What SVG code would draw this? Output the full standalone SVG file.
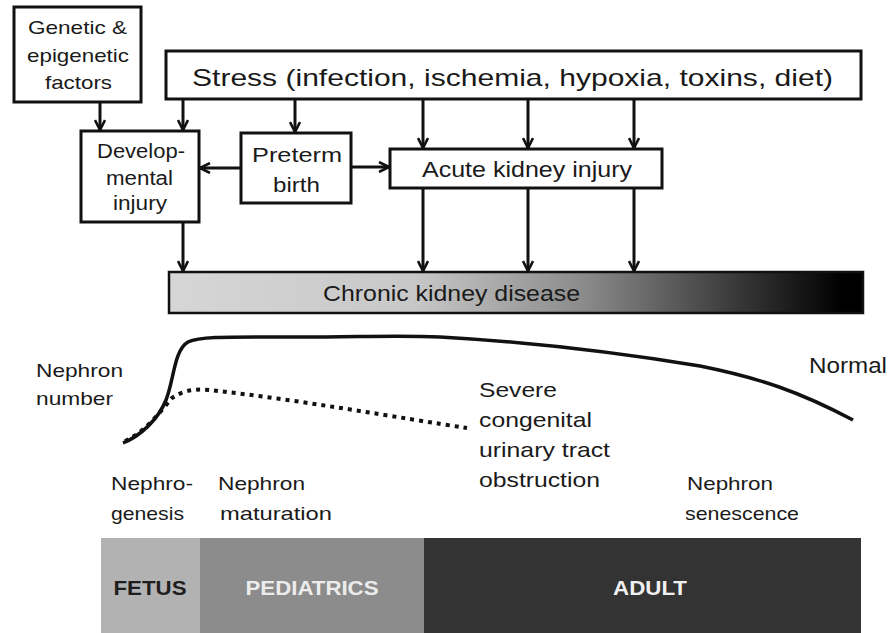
<svg xmlns="http://www.w3.org/2000/svg" width="893" height="633" viewBox="0 0 893 633">
<style>
.box{fill:#fff;stroke:#111;stroke-width:3}
.t{font-family:"Liberation Sans",Arial,sans-serif;fill:#1a1a1a}
.c{text-anchor:middle}
.conn{stroke:#111;stroke-width:3;fill:none}
.band{font-family:"Liberation Sans",Arial,sans-serif;font-weight:bold;font-size:21px;text-anchor:middle}
</style>
<defs>
<marker id="ah" viewBox="0 0 12 12" refX="11" refY="6" markerWidth="12" markerHeight="12" markerUnits="userSpaceOnUse" orient="auto">
<path d="M1,1 L11,6 L1,11" fill="none" stroke="#111" stroke-width="2.6"/>
</marker>
<linearGradient id="ckd" x1="0" y1="0" x2="1" y2="0">
<stop offset="0" stop-color="#d6d6d6"/>
<stop offset="0.35" stop-color="#c8c8c8"/>
<stop offset="0.6" stop-color="#8a8a8a"/>
<stop offset="0.97" stop-color="#000"/>
<stop offset="1" stop-color="#000"/>
</linearGradient>
</defs>

<g id="connectors">
<line class="conn" x1="100" y1="102" x2="100" y2="130" marker-end="url(#ah)"/>
<line class="conn" x1="183" y1="99" x2="183" y2="130" marker-end="url(#ah)"/>
<line class="conn" x1="295" y1="99" x2="295" y2="132" marker-end="url(#ah)"/>
<line class="conn" x1="423" y1="99" x2="423" y2="148" marker-end="url(#ah)"/>
<line class="conn" x1="528" y1="99" x2="528" y2="148" marker-end="url(#ah)"/>
<line class="conn" x1="634" y1="99" x2="634" y2="148" marker-end="url(#ah)"/>
<line class="conn" x1="241" y1="168" x2="200" y2="168" marker-end="url(#ah)"/>
<line class="conn" x1="351" y1="167" x2="389" y2="167" marker-end="url(#ah)"/>
<line class="conn" x1="183" y1="222" x2="183" y2="271" marker-end="url(#ah)"/>
<line class="conn" x1="423" y1="188" x2="423" y2="271" marker-end="url(#ah)"/>
<line class="conn" x1="528" y1="188" x2="528" y2="271" marker-end="url(#ah)"/>
<line class="conn" x1="634" y1="188" x2="634" y2="271" marker-end="url(#ah)"/>
</g>

<g id="genetic">
<rect class="box" x="14" y="7" width="127" height="95"/>
<text class="t" font-size="19" x="28" y="34" textLength="99" lengthAdjust="spacingAndGlyphs">Genetic &amp;</text>
<text class="t" font-size="19" x="27" y="62" textLength="102" lengthAdjust="spacingAndGlyphs">epigenetic</text>
<text class="t" font-size="19" x="45" y="89" textLength="67" lengthAdjust="spacingAndGlyphs">factors</text>
</g>

<g id="stress">
<rect class="box" x="166" y="51" width="695" height="48"/>
<text class="t" font-size="24" x="192" y="86" textLength="641" lengthAdjust="spacingAndGlyphs">Stress (infection, ischemia, hypoxia, toxins, diet)</text>
</g>

<g id="developmental">
<rect class="box" x="81" y="131" width="118" height="91"/>
<text class="t" font-size="20" x="97" y="158" textLength="88" lengthAdjust="spacingAndGlyphs">Develop-</text>
<text class="t" font-size="20" x="106" y="185" textLength="67" lengthAdjust="spacingAndGlyphs">mental</text>
<text class="t" font-size="20" x="113" y="210" textLength="54" lengthAdjust="spacingAndGlyphs">injury</text>
</g>

<g id="preterm">
<rect class="box" x="241" y="133" width="110" height="70"/>
<text class="t" font-size="21" x="252" y="162" textLength="90" lengthAdjust="spacingAndGlyphs">Preterm</text>
<text class="t" font-size="21" x="273" y="192" textLength="47" lengthAdjust="spacingAndGlyphs">birth</text>
</g>

<g id="aki">
<rect class="box" x="390" y="149" width="272" height="39"/>
<text class="t" font-size="22" x="422" y="177" textLength="210" lengthAdjust="spacingAndGlyphs">Acute kidney injury</text>
</g>

<g id="ckd">
<rect x="169" y="272" width="694" height="41" fill="url(#ckd)" stroke="#111" stroke-width="2.5"/>
<text class="t" font-size="22" x="323" y="301" fill="#222" textLength="257" lengthAdjust="spacingAndGlyphs">Chronic kidney disease</text>
</g>

<g id="curves">
<path d="M123,443 C140,436 158,420 166,400 C174,380 174,350 188,342 C200,336 230,337 300,337 C360,337 400,335 440,337 C530,342 620,353 700,366 C760,378 800,392 853,420" fill="none" stroke="#111" stroke-width="3.5"/>
<path d="M125,441 C145,432 160,412 172,398 C185,389 198,389 210,390 C300,400 400,418 467,428" fill="none" stroke="#111" stroke-width="4" stroke-dasharray="4 5"/>
</g>

<g id="labels">
<text class="t" font-size="19" x="36" y="377" textLength="87" lengthAdjust="spacingAndGlyphs">Nephron</text>
<text class="t" font-size="19" x="36" y="405" textLength="77" lengthAdjust="spacingAndGlyphs">number</text>
<text class="t" font-size="22" x="809" y="373" textLength="78" lengthAdjust="spacingAndGlyphs">Normal</text>
<text class="t" font-size="21" x="479" y="397" textLength="78" lengthAdjust="spacingAndGlyphs">Severe</text>
<text class="t" font-size="21" x="479" y="427" textLength="113" lengthAdjust="spacingAndGlyphs">congenital</text>
<text class="t" font-size="21" x="479" y="457" textLength="131" lengthAdjust="spacingAndGlyphs">urinary tract</text>
<text class="t" font-size="21" x="479" y="487" textLength="121" lengthAdjust="spacingAndGlyphs">obstruction</text>
<text class="t" font-size="19" x="111" y="490" textLength="82" lengthAdjust="spacingAndGlyphs">Nephro-</text>
<text class="t" font-size="19" x="111" y="520" textLength="73" lengthAdjust="spacingAndGlyphs">genesis</text>
<text class="t" font-size="19" x="218" y="490" textLength="87" lengthAdjust="spacingAndGlyphs">Nephron</text>
<text class="t" font-size="19" x="220" y="520" textLength="112" lengthAdjust="spacingAndGlyphs">maturation</text>
<text class="t" font-size="19" x="687" y="490" textLength="86" lengthAdjust="spacingAndGlyphs">Nephron</text>
<text class="t" font-size="19" x="685" y="520" textLength="114" lengthAdjust="spacingAndGlyphs">senescence</text>
</g>

<g id="fetus">
<rect x="101" y="538" width="99" height="95" fill="#b2b2b2"/>
<text class="band" x="150" y="595" fill="#1e1e1e" textLength="73" lengthAdjust="spacingAndGlyphs">FETUS</text>
</g>
<g id="pediatrics">
<rect x="200" y="538" width="224" height="95" fill="#8c8c8c"/>
<text class="band" x="312" y="595" fill="#ececec" textLength="133" lengthAdjust="spacingAndGlyphs">PEDIATRICS</text>
</g>
<g id="adult">
<rect x="424" y="538" width="437" height="95" fill="#333"/>
<text class="band" x="650" y="595" fill="#f0f0f0" textLength="74" lengthAdjust="spacingAndGlyphs">ADULT</text>
</g>
</svg>
